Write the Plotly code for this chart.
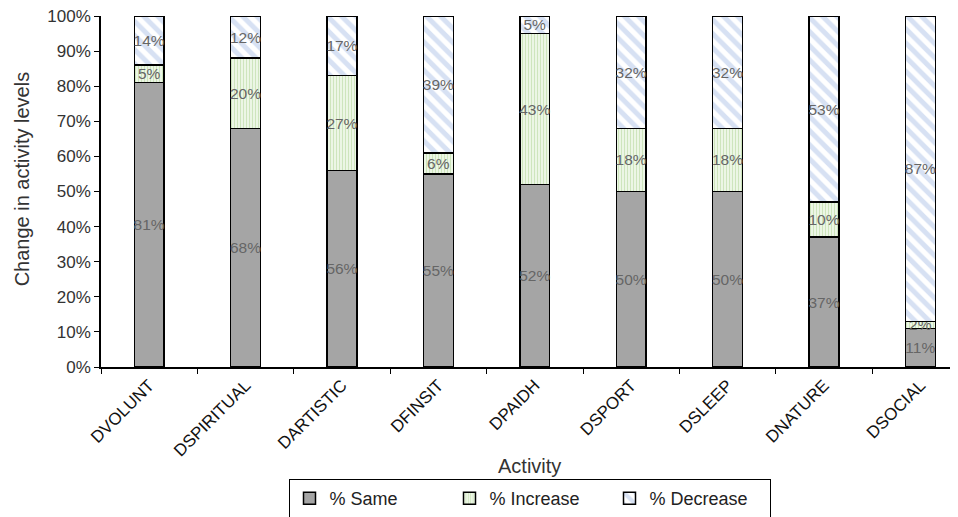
import plotly.graph_objects as go

categories = ["DVOLUNT", "DSPIRITUAL", "DARTISTIC", "DFINSIT", "DPAIDH",
              "DSPORT", "DSLEEP", "DNATURE", "DSOCIAL"]
same = [81, 68, 56, 55, 52, 50, 50, 37, 11]
increase = [5, 20, 27, 6, 43, 18, 18, 10, 2]
decrease = [14, 12, 17, 39, 5, 32, 32, 53, 87]
y_ticks = [0, 10, 20, 30, 40, 50, 60, 70, 80, 90, 100]

FONT = "Liberation Sans, Arial, sans-serif"
TXT = "#666666"

fig = go.Figure()
common = dict(width=0.31, textposition="inside", insidetextanchor="middle",
              textangle=0, constraintext="none",
              textfont=dict(size=15.5, color=TXT, family=FONT),
              hoverinfo="skip")

fig.add_trace(go.Bar(name="% Same", x=categories, y=same,
                     text=[f"{v}%" for v in same],
                     marker=dict(color="#A5A5A5", line=dict(color="black", width=1.5)),
                     **common))
fig.add_trace(go.Bar(name="% Increase", x=categories, y=increase,
                     text=[f"{v}%" for v in increase],
                     marker=dict(color="#FFFFFF", line=dict(color="black", width=1.5),
                                 pattern=dict(shape="|", fgcolor="#A9D18E", bgcolor="#F2F9EC",
                                              size=3, solidity=0.45)),
                     **common))
fig.add_trace(go.Bar(name="% Decrease", x=categories, y=decrease,
                     text=[f"{v}%" for v in decrease],
                     marker=dict(color="#FFFFFF", line=dict(color="black", width=1.5),
                                 pattern=dict(shape="\\", fgcolor="#AFC3E8", bgcolor="#FFFFFF",
                                              size=10, solidity=0.5)),
                     **common))

fig.update_layout(
    barmode="stack",
    width=950, height=509,
    margin=dict(l=93, r=0, t=8, b=150, autoexpand=False),
    paper_bgcolor="white", plot_bgcolor="white",
    font=dict(family=FONT, color="#222222"),
    showlegend=True,
    legend=dict(orientation="h", x=0.5, xanchor="center", y=-0.319, yanchor="top",
                bordercolor="black", borderwidth=1, font=dict(size=18, color="#222222"),
                traceorder="normal", itemwidth=30, entrywidth=115),
    xaxis=dict(range=[-0.5, 8.39], tickson="boundaries", ticks="outside", ticklen=5,
               tickcolor="black", showline=True, linecolor="black", linewidth=1.5,
               tickangle=-45, tickfont=dict(size=17, color="#111111"), automargin=False,
               ticklabeloverflow="allow"),
    yaxis=dict(range=[0, 100], tickvals=y_ticks, ticktext=[f"{v}%" for v in y_ticks],
               ticks="outside", ticklen=5, tickcolor="black", showline=True,
               linecolor="black", linewidth=1.5, showgrid=False, zeroline=False,
               tickfont=dict(size=17, color="#333333"), automargin=False,
               ticklabeloverflow="allow"),
    annotations=[
        dict(text="Activity", xref="paper", yref="paper", x=0.5, y=-0.282,
             xanchor="center", yanchor="middle", showarrow=False,
             font=dict(size=20, color="#333333")),
        dict(text="Change in activity levels", xref="paper", yref="paper",
             x=-0.092, y=0.535, xanchor="center", yanchor="middle", textangle=-90,
             showarrow=False, font=dict(size=20, color="#333333")),
    ],
)

fig.write_html("out.html")
